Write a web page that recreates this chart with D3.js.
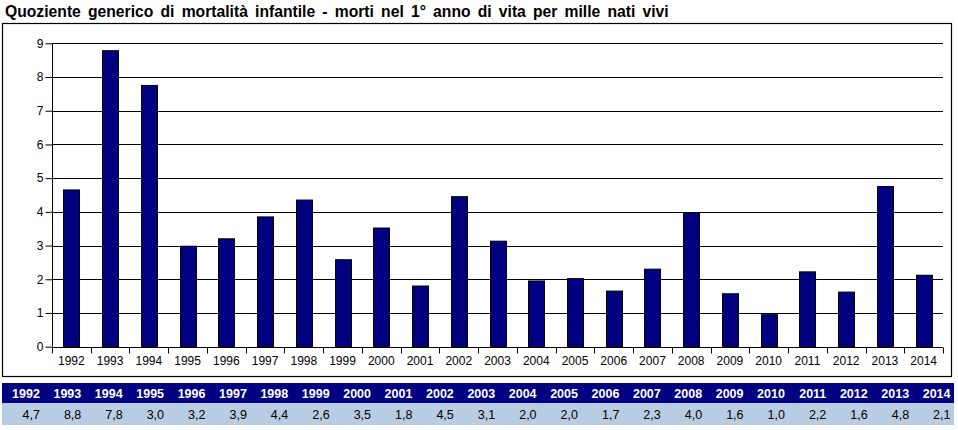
<!DOCTYPE html>
<html><head><meta charset="utf-8">
<script src="https://cdn.jsdelivr.net/npm/d3@7"></script>
<style>body{margin:0;background:#fff}svg{display:block;font-family:"Liberation Sans",Arial,sans-serif}</style>
</head><body><svg id="c" width="958" height="430"></svg>
<script>
const title = "Quoziente generico di mortalità infantile - morti nel 1° anno di vita per mille nati vivi";
const years = ["1992","1993","1994","1995","1996","1997","1998","1999","2000","2001","2002","2003","2004","2005","2006","2007","2008","2009","2010","2011","2012","2013","2014"];
const values = [4.65,8.78,7.75,2.98,3.2,3.85,4.35,2.58,3.52,1.8,4.45,3.13,1.95,2.02,1.65,2.3,3.98,1.57,0.95,2.22,1.62,4.75,2.12];
const tableLabels = ["4,7","8,8","7,8","3,0","3,2","3,9","4,4","2,6","3,5","1,8","4,5","3,1","2,0","2,0","1,7","2,3","4,0","1,6","1,0","2,2","1,6","4,8","2,1"];
const yTicks = [0,1,2,3,4,5,6,7,8,9];

const svg = d3.select("#c");
svg.append("text").attr("x",5).attr("y",17).attr("font-weight","bold").attr("font-size",15.7)
  .attr("word-spacing",2.8).text(title);
svg.append("rect").attr("x",2.5).attr("y",23.5).attr("width",949).attr("height",353)
  .attr("fill","none").attr("stroke","#000").attr("stroke-width",1.2);

const L=52, R=943, T=43.3, B=346.7;
const x = d3.scaleBand().domain(years).range([L,R]).paddingInner(0).paddingOuter(0);
const y = d3.scaleLinear().domain([0,9]).range([B,T]);

svg.append("g").selectAll("line").data(yTicks.filter(d=>d>0)).join("line")
  .attr("x1",L).attr("x2",R).attr("y1",d=>Math.round(y(d))+0.5).attr("y2",d=>Math.round(y(d))+0.5)
  .attr("stroke","#000").attr("stroke-width",1);

const bw = 16;
svg.append("g").selectAll("rect").data(values).join("rect")
  .attr("x",(d,i)=>Math.round(x(years[i])+x.bandwidth()/2-bw/2)+0.5)
  .attr("y",d=>y(d)).attr("width",bw).attr("height",d=>B-y(d))
  .attr("fill","#000080").attr("stroke","#000").attr("stroke-width",1);

const ya = svg.append("g").attr("transform",`translate(${L+0.5},0)`)
  .call(d3.axisLeft(y).tickValues(yTicks).tickSize(7).tickPadding(2).tickFormat(d3.format("d")));
ya.selectAll("text").attr("font-size",12).attr("font-family","Liberation Sans, Arial").attr("fill","#000");
ya.selectAll("line").attr("stroke","#000");
ya.select(".domain").attr("stroke","#000").attr("d",`M0,${T}V${B}`);

const xa = svg.append("g").attr("transform",`translate(0,${Math.round(B)+0.5})`)
  .call(d3.axisBottom(x).tickSize(0).tickPadding(9));
xa.selectAll("text").attr("font-size",12).attr("font-family","Liberation Sans, Arial").attr("fill","#000");
xa.select(".domain").attr("stroke","#000").attr("d",`M${L},0H${R}`);
const bounds = years.map(d=>x(d)).concat([R]);
xa.append("g").selectAll("line").data(bounds).join("line")
  .attr("x1",d=>Math.round(d)+0.5).attr("x2",d=>Math.round(d)+0.5).attr("y1",0).attr("y2",6).attr("stroke","#000");

const tx = d3.scaleBand().domain(years).range([2,954]);
const tg = svg.append("g");
tg.append("rect").attr("x",2).attr("y",383).attr("width",952).attr("height",20).attr("fill","#000080");
tg.append("rect").attr("x",2).attr("y",403).attr("width",952).attr("height",22).attr("fill","#b8cce4");
tg.selectAll("text.h").data(years).join("text").attr("class","h")
  .attr("x",d=>tx(d)+tx.bandwidth()-3.5).attr("y",397.5).attr("text-anchor","end")
  .attr("fill","#fff").attr("font-weight","bold").attr("font-size",12.5).text(d=>d);
tg.selectAll("text.v").data(tableLabels).join("text").attr("class","v")
  .attr("x",(d,i)=>tx(years[i])+tx.bandwidth()-3.5).attr("y",419).attr("text-anchor","end")
  .attr("fill","#000").attr("font-size",12.5).text(d=>d);
</script></body></html>
